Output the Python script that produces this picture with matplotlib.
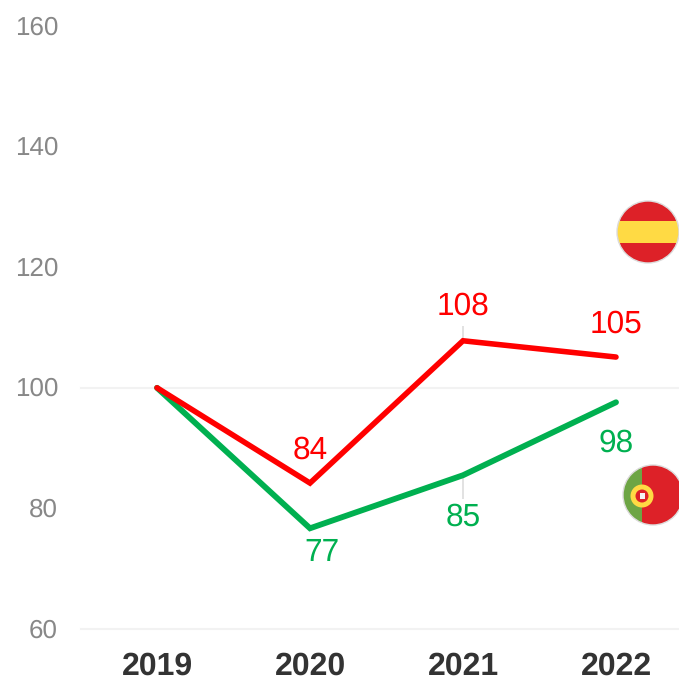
import matplotlib
matplotlib.use("Agg")
import matplotlib.pyplot as plt
from matplotlib.patches import Circle, Rectangle
from matplotlib.transforms import ScaledTranslation

plt.rcParams['font.family'] = ['Liberation Sans', 'DejaVu Sans']
plt.rcParams['text.kerning_factor'] = 6
plt.rcParams['text.hinting'] = 'no_hinting'

years = ['2019', '2020', '2021', '2022']
spain = [100, 84.2, 107.8, 105.1]
portugal = [100, 76.7, 85.5, 97.6]
spain_labels = ['', '84', '108', '105']
portugal_labels = ['', '77', '85', '98']
yticks = [60, 80, 100, 120, 140, 160]
gridlines = [60, 100]

RED = '#ff0000'
GREEN = '#00b050'
W, H = 679, 680

fig = plt.figure(figsize=(W / 100, H / 100), dpi=100)
ax = fig.add_axes([81 / W, 1 - 629 / H, (W - 81) / W, (629 - 26) / H])
ax.set_ylim(60, 160)
ax.set_xlim((81 - 157) / 153, (679 - 157) / 153)
for s in ax.spines.values():
    s.set_visible(False)

for g in gridlines:
    ax.axhline(g, color='#f2f2f2', lw=1.5, zorder=1, clip_on=False)

# faint vertical stubs at 2021, visible above and below the line
ax.vlines(2, 107.8, 110.2, color='#e2e2e2', lw=1.4, zorder=1)
ax.vlines(2, 81.5, 85.5, color='#e2e2e2', lw=1.4, zorder=1)

xs = range(len(years))
ax.plot(xs, portugal, color=GREEN, lw=4.2, solid_joinstyle='miter', solid_capstyle='round', zorder=3)
ax.plot(xs, spain, color=RED, lw=4.0, solid_joinstyle='miter', solid_capstyle='round', zorder=4)

ax.set_xticks(list(xs), years, fontsize=23, fontweight='bold', color='#333333')
ax.set_yticks(yticks, [str(t) for t in yticks], fontsize=18.7, color='#888888')
ax.tick_params(axis='x', length=0, pad=16)
ax.tick_params(axis='y', length=0, pad=16.5)
up = ScaledTranslation(0, 1 / 100, fig.dpi_scale_trans)
for lab in ax.get_yticklabels():
    lab.set_transform(lab.get_transform() + up)

sp_off = [None, (0, 33), (0, 34), (0, 33)]
pt_off = [None, (12, -24), (0, -42), (0, -41)]
for i in xs:
    if spain_labels[i]:
        ax.annotate(spain_labels[i], (i, spain[i]), xytext=sp_off[i], textcoords='offset pixels',
                    ha='center', va='center', color=RED, fontsize=22.8, zorder=5)
    if portugal_labels[i]:
        ax.annotate(portugal_labels[i], (i, portugal[i]), xytext=pt_off[i], textcoords='offset pixels',
                    ha='center', va='center', color=GREEN, fontsize=22.8, zorder=5)

# flag icons, in an overlay using image pixel coordinates
ov = fig.add_axes([0, 0, 1, 1], facecolor='none')
ov.set_xlim(0, W)
ov.set_ylim(H, 0)
ov.axis('off')

FLAG_RED = '#dd2128'
YEL = '#ffda44'

c = Circle((648, 232), 31, fc='none', ec='none')
ov.add_patch(c)
r = Rectangle((617, 201), 62, 62, fc=FLAG_RED, ec='none', zorder=6)
ov.add_patch(r); r.set_clip_path(c)
b = Rectangle((617, 221), 62, 22, fc=YEL, ec='none', zorder=7)
ov.add_patch(b); b.set_clip_path(c)
ov.add_patch(Circle((648, 232), 31, fc='none', ec='#dcdcdc', lw=1.0, zorder=8))

c2 = Circle((653, 495), 30, fc='none', ec='none')
ov.add_patch(c2)
r2 = Rectangle((623, 465), 60, 60, fc=FLAG_RED, ec='none', zorder=6)
ov.add_patch(r2); r2.set_clip_path(c2)
g2 = Rectangle((623, 465), 19, 60, fc='#6da544', ec='none', zorder=7)
ov.add_patch(g2); g2.set_clip_path(c2)
ov.add_patch(Circle((653, 495), 30, fc='none', ec='#dcdcdc', lw=1.0, zorder=8))
ov.add_patch(Circle((642, 496), 11.5, fc=YEL, ec='none', zorder=9))
ov.add_patch(Circle((642, 496), 6.5, fc=FLAG_RED, ec='none', zorder=10))
ov.add_patch(Rectangle((639.5, 493), 5, 6, fc='#f3f3f3', ec='none', zorder=11))

fig.savefig('out.png', dpi=100, facecolor='white')
